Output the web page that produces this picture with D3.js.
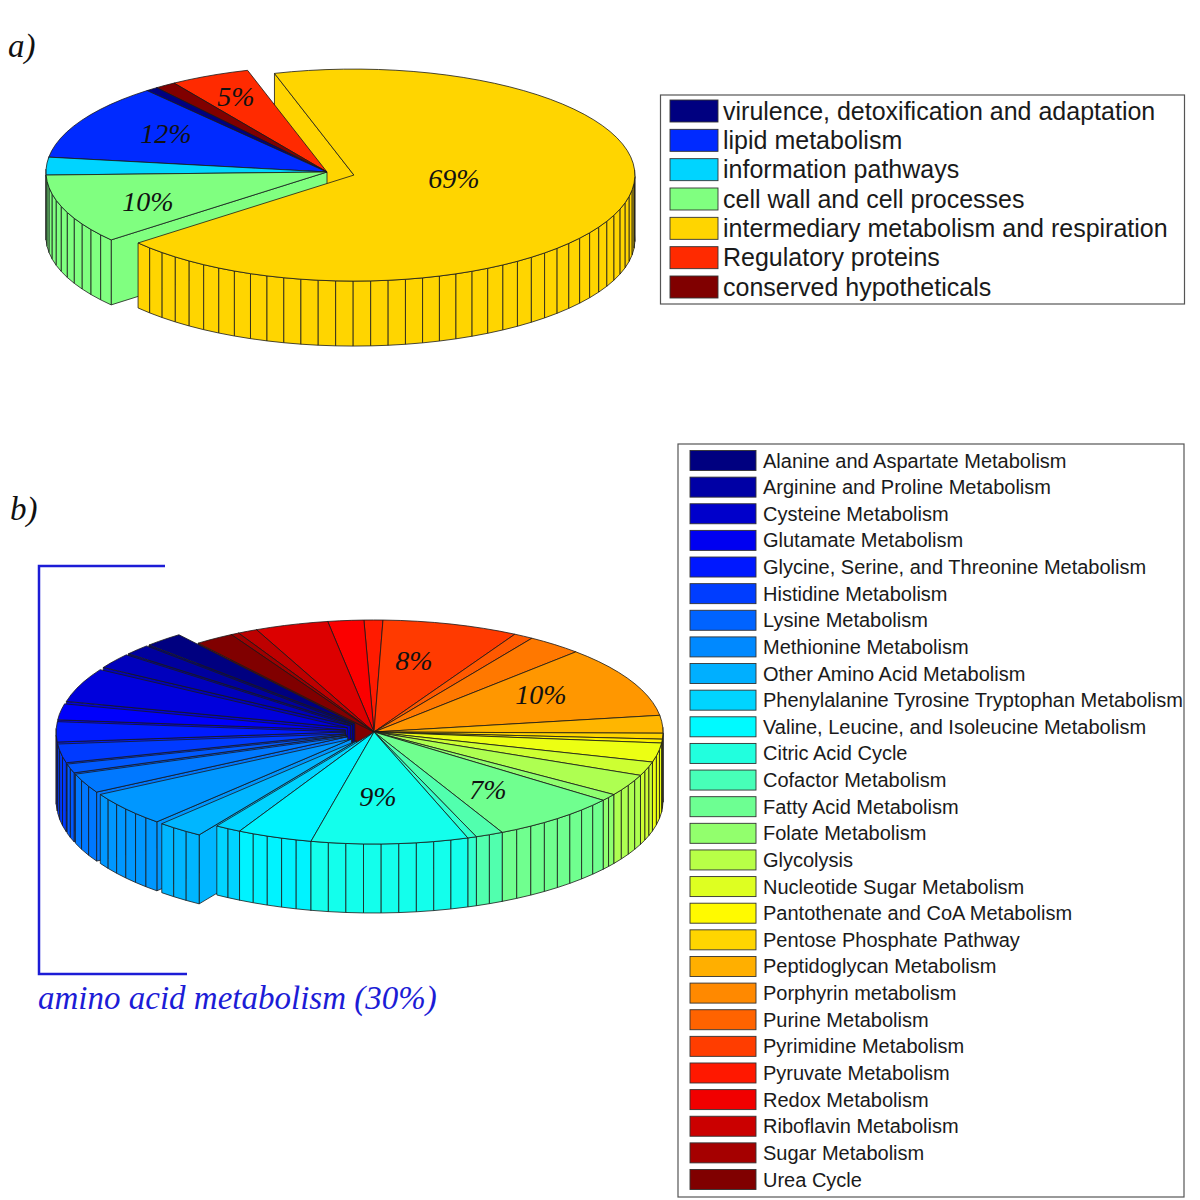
<!DOCTYPE html>
<html><head><meta charset="utf-8">
<script src="https://cdn.jsdelivr.net/npm/d3@7"></script>
<style>html,body{margin:0;padding:0;background:#fff}svg{display:block}</style>
</head><body><svg id="c" width="1200" height="1200"></svg>
<script>
// ---- data, panel a
const categoriesA = ["virulence, detoxification and adaptation","lipid metabolism","information pathways","cell wall and cell processes","intermediary metabolism and respiration","Regulatory proteins","conserved hypotheticals"];
const valuesA = [0.7,11.7,2.7,10.6,68.5,4.6,1.2];
const explodedA = [4];
const percentLabelsA = ["12%","10%","69%","5%"];
const percentSlicesA = [1,3,4,5];

// ---- data, panel b
const categoriesB = ["Alanine and Aspartate Metabolism","Arginine and Proline Metabolism","Cysteine Metabolism","Glutamate Metabolism","Glycine, Serine, and Threonine Metabolism","Histidine Metabolism","Lysine Metabolism","Methionine Metabolism","Other Amino Acid Metabolism","Phenylalanine Tyrosine Tryptophan Metabolism","Valine, Leucine, and Isoleucine Metabolism","Citric Acid Cycle","Cofactor Metabolism","Fatty Acid Metabolism","Folate Metabolism","Glycolysis","Nucleotide Sugar Metabolism","Pantothenate and CoA Metabolism","Pentose Phosphate Pathway","Peptidoglycan Metabolism","Porphyrin metabolism","Purine Metabolism","Pyrimidine Metabolism","Pyruvate Metabolism","Redox Metabolism","Riboflavin Metabolism","Sugar Metabolism","Urea Cycle"];
const valuesB = [2.2,1.5,2.2,4.9,2.3,2.9,2.7,1.3,2.8,5.0,2.6,1.45,4.2,8.75,0.5,1.55,7.25,1.0,3.1,2.0,2.75,0.55,0.85,2.55,10.3,3.1,1.1,7.6,1.05,2.0,4.1,1.1,0.45,2.2];
const explodedB = [0,1,2,3,4,5,6,7,8,9,10];
const percentLabelsB = ["9%","7%","10%","8%"];
const percentSlicesB = [13,16,24,27];

// ---- annotation layout (not data)
const labelXY_A = [[166,133],[148,201],[454,178],[236,96]];
const labelXY_B = [[378,796],[488,789],[541,694],[414,660]];

const svg = d3.select("#c");
const SERIF = "'Liberation Serif','Times New Roman',serif";
const SANS = "'Liberation Sans',Arial,sans-serif";

// MATLAB-style jet colour map
const clamp01 = d3.scaleLinear().domain([0,1]).range([0,1]).clamp(true);
const jet = t => d3.rgb(255*clamp01(1.5-Math.abs(4*t-3)),255*clamp01(1.5-Math.abs(4*t-2)),255*clamp01(1.5-Math.abs(4*t-1))).formatHex();
const jetN = n => d3.range(n).map(i => jet(i/(n-1)));

const path = d3.line();

function pie3(g, o){
  const colors = jetN(o.values.length);
  const total = d3.sum(o.values);
  const rad = d3.scaleLinear().domain([0,2*Math.PI]).range([o.t0*Math.PI/180,(o.t0+360)*Math.PI/180]);
  const arcs = d3.pie().sort(null).value(d=>d)(o.values);
  const slices = arcs.map((a,i)=>{
    const t1 = rad(a.startAngle), t2 = rad(a.endAngle), tb=(t1+t2)/2;
    const ex = o.exploded.includes(i) ? o.explode : 0;
    const n = Math.max(1, Math.ceil(100*a.value/total - 1e-9));
    const cx = o.cx + ex*o.rx*Math.cos(tb), cy = o.cy - ex*o.ry*Math.sin(tb);
    const ts = d3.range(n+1).map(k=>t1+(t2-t1)*k/n);
    const rim = ts.map(t=>[cx+o.rx*Math.cos(t), cy-o.ry*Math.sin(t)]);
    return {i,t1,t2,tb,cx,cy,ts,rim,color:colors[i]};
  });
  const order = slices.slice().sort((p,q)=>Math.sin(q.tb)-Math.sin(p.tb));
  const style = s => s.attr("stroke","#1a1a1a").attr("stroke-width",o.sw).attr("stroke-linejoin","round");
  const wallG = g.append("g"), bodyG = g.append("g");
  // radial side walls first
  order.forEach(s=>{
    const add = (p)=>style(wallG.append("path")
      .attr("d",path([[s.cx,s.cy],p,[p[0],p[1]+o.depth],[s.cx,s.cy+o.depth]])+"Z").attr("fill",s.color));
    if (Math.cos(s.t1)>0) add(s.rim[0]);
    if (Math.cos(s.t2)<0) add(s.rim[s.rim.length-1]);
  });
  // outer walls and top faces
  order.forEach(s=>{
    d3.range(s.rim.length-1).forEach(k=>{
      if (Math.sin(s.ts[k])<0 || Math.sin(s.ts[k+1])<0){
        const a=s.rim[k], b=s.rim[k+1];
        style(bodyG.append("path").attr("d",path([a,b,[b[0],b[1]+o.depth],[a[0],a[1]+o.depth]])+"Z").attr("fill",s.color));
      }
    });
    style(bodyG.append("path").attr("d",path([[s.cx,s.cy],...s.rim])+"Z").attr("fill",s.color));
  });
  // percentage labels
  o.labels.forEach((txt,i)=>{
    g.append("text").text(txt).attr("x",o.labelXY[i][0]).attr("y",o.labelXY[i][1]).attr("dy","0.35em")
      .attr("text-anchor","middle").attr("font-family",SERIF).attr("font-style","italic")
      .attr("font-size",o.labelSize).attr("fill","#111");
  });
}

function legend(g,o){
  const colors = jetN(o.items.length);
  g.append("rect").attr("x",o.x).attr("y",o.y).attr("width",o.w).attr("height",o.h)
    .attr("fill","#fff").attr("stroke","#555").attr("stroke-width",1.2);
  const yScale = d3.scaleLinear().domain([0,o.items.length-1]).range([o.first,o.last]);
  o.items.forEach((t,i)=>{
    g.append("rect").attr("x",o.sx).attr("y",yScale(i)-o.sh/2).attr("width",o.sw).attr("height",o.sh)
      .attr("fill",colors[i]).attr("stroke","#333").attr("stroke-width",0.9);
    g.append("text").text(t).attr("x",o.tx).attr("y",yScale(i)).attr("dy","0.35em")
      .attr("font-family",SANS).attr("font-size",o.size).attr("fill","#1a1a1a");
  });
}

pie3(svg.append("g"),{values:valuesA,exploded:explodedA,t0:127.3,cx:327,cy:172,rx:281,ry:106,depth:65,explode:0.1,sw:0.8,
  labels:percentLabelsA,labelXY:labelXY_A,labelSize:28});
pie3(svg.append("g"),{values:valuesB,exploded:explodedB,t0:127.5,cx:374,cy:732,rx:289,ry:112,depth:69,explode:0.1,sw:0.8,
  labels:percentLabelsB,labelXY:labelXY_B,labelSize:28});

legend(svg.append("g"),{items:categoriesA,x:660.5,y:95,w:524,h:209,sx:670,sw:48,sh:22,first:111,last:287,tx:723,size:25});
legend(svg.append("g"),{items:categoriesB,x:678,y:444,w:506,h:753,sx:690,sw:66,sh:20,first:460.5,last:1179.5,tx:763,size:20});

// panel letters
[["a)",8,57],["b)",10,520]].forEach(d=>svg.append("text").text(d[0]).attr("x",d[1]).attr("y",d[2])
  .attr("font-family",SERIF).attr("font-style","italic").attr("font-size",33).attr("fill","#111"));

// amino-acid bracket and caption
const blue="#1c1cd6";
svg.append("path").attr("d",path([[165,566],[39,566],[39,974],[187,974]])).attr("fill","none").attr("stroke",blue).attr("stroke-width",2.5);
svg.append("text").text("amino acid metabolism (30%)").attr("x",38).attr("y",1009)
  .attr("font-family",SERIF).attr("font-style","italic").attr("font-size",33).attr("fill",blue);
</script></body></html>
